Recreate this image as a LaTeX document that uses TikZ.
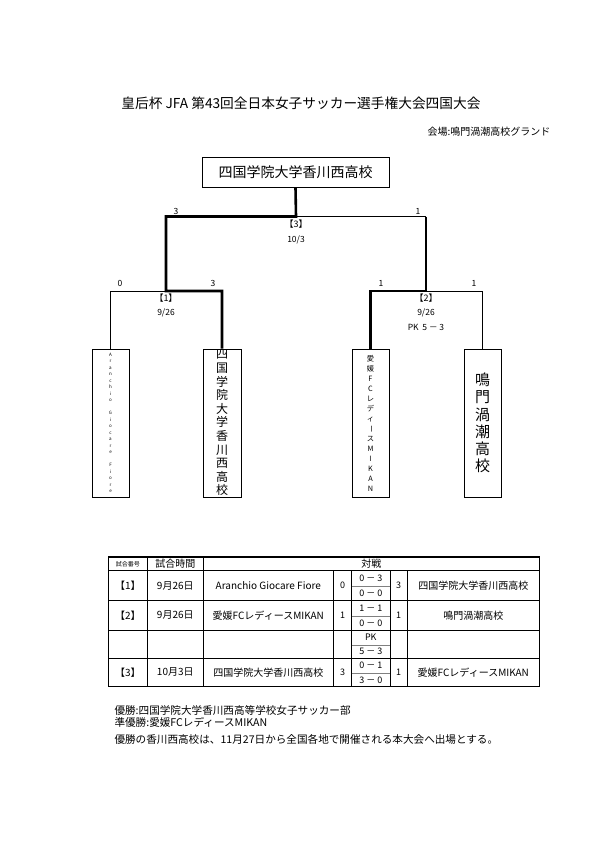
\documentclass[tikz,border=0pt]{standalone}
\usepackage{fontspec}
\setmainfont{Noto Sans CJK JP}
\begin{document}
\begin{tikzpicture}[x=1pt,y=-1pt,
    thinline/.style={line width=0.8pt},
    winline/.style={line width=2.6pt},
    teambox/.style={draw,line width=1pt,minimum width=37pt,minimum height=148pt,inner sep=0pt,align=center},
    score/.style={font=\fontsize{8.5}{9}\selectfont},
    cell/.style={font=\fontsize{10}{11}\selectfont},
    goal/.style={font=\fontsize{9}{10}\selectfont},
    note/.style={font=\fontsize{10.6}{11}\selectfont, anchor=west},
  ]

    % Fix the page size (A4 at 1pt per pixel)
    \useasboundingbox (0,0) rectangle (595,841);

    % Title and venue
    \node[font=\fontsize{13.7}{14}\selectfont] (title) at (301,103) {皇后杯 JFA 第43回全日本女子サッカー選手権大会四国大会};
    \node[font=\fontsize{10}{11}\selectfont, anchor=east] (venue) at (554,132) {会場:鳴門渦潮高校グランド};

    % Champion box at the top
    \node[draw, line width=1pt, minimum width=187pt, minimum height=30pt, font=\fontsize{14}{15}\selectfont] (champ) at (295.5,172) {四国学院大学香川西高校};

    % The four teams, written top to bottom
    \node[teambox, font=\fontsize{4.5}{6.5}\selectfont] (teamA) at (110.5,423)
      {A\\r\\a\\n\\c\\h\\i\\o\\~\\G\\i\\o\\c\\a\\r\\e\\~\\F\\i\\o\\r\\e};
    \node[teambox, minimum width=38pt, font=\fontsize{12}{13.6}\selectfont] (teamB) at (222,423)
      {四\\国\\学\\院\\大\\学\\香\\川\\西\\高\\校};
    \node[teambox, font=\fontsize{7.3}{10}\selectfont] (teamC) at (370.5,423)
      {愛\\媛\\F\\C\\レ\\デ\\ィ\\\rotatebox[origin=c]{-90}{ー}\\ス\\M\\I\\K\\A\\N};
    \node[teambox, font=\fontsize{15}{17.3}\selectfont] (teamD) at (482.5,423)
      {鳴\\門\\渦\\潮\\高\\校};

    % Joints of the bracket
    \coordinate (j3) at (296,216.5);
    \coordinate (t3l) at (166,216.5);
    \coordinate (t3r) at (426,216.5);
    \coordinate (j1) at (166,291);
    \coordinate (l1) at (110.5,291);
    \coordinate (r1) at (222,291);
    \coordinate (j2) at (426,291);
    \coordinate (l2) at (370.5,291);
    \coordinate (r2) at (482.5,291);

    % Losing sides (thin lines)
    \draw[thinline] (j3) -- (t3r);
    \draw[thinline] (j1) -- (l1) -- (teamA.north);
    \draw[thinline] (j2) -- (r2) -- (teamD.north);

    % Winning path of match [1] and the final (thick)
    \draw[winline] (champ.south) -- (j3) -- (t3l) -- (j1) -- (r1) -- (teamB.north);

    % Winning path of match [2] (thick)
    \draw[winline] (t3r) -- (j2) -- (l2) -- (teamC.north);

    % Scores of the final
    \node[score] (s3l) at (176,211) {3};
    \node[score] (s3r) at (418,211) {1};
    \node[goal] (m3) at (296,224) {【3】};
    \node[score] (d3) at (296,240) {10/3};

    % Scores of match [1]
    \node[score] (s1l) at (120,283) {0};
    \node[score] (s1r) at (213,283) {3};
    \node[goal] (m1) at (166,298) {【1】};
    \node[score] (d1) at (166,313) {9/26};

    % Scores of match [2]
    \node[score] (s2l) at (381,283) {1};
    \node[score] (s2r) at (474,283) {1};
    \node[goal] (m2) at (426,298) {【2】};
    \node[score] (d2) at (426,313) {9/26};
    \node[score] (pk2) at (426,327) {PK\ \ 5 － 3};

    % Result table: outer frame
    \draw[line width=1.2pt] (108.3,557) rectangle (539.3,686.7);

    % Row lines
    \draw[thinline] (108.3,570.7) -- (539.3,570.7);
    \draw[thinline] (108.3,600.7) -- (539.3,600.7);
    \draw[thinline] (108.3,630) -- (539.3,630);
    \draw[thinline] (108.3,658) -- (539.3,658);

    % Column lines
    \draw[thinline] (147.3,557) -- (147.3,686.7);
    \draw[thinline] (203.3,557) -- (203.3,686.7);
    \draw[thinline] (333.3,570.7) -- (333.3,686.7);
    \draw[thinline] (351.7,570.7) -- (351.7,686.7);
    \draw[thinline] (390,570.7) -- (390,686.7);
    \draw[thinline] (407.3,570.7) -- (407.3,686.7);

    % Half lines inside the score column
    \draw[gray, line width=0.6pt] (351.7,586) -- (390,586);
    \draw[gray, line width=0.6pt] (351.7,616) -- (390,616);
    \draw[gray, line width=0.6pt] (351.7,645) -- (390,645);
    \draw[gray, line width=0.6pt] (351.7,673) -- (390,673);

    % Header
    \node[font=\fontsize{6}{7}\selectfont] (h1) at (127.8,564) {試合番号};
    \node[cell] (h2) at (175.3,564) {試合時間};
    \node[cell] (h3) at (371.3,564) {対戦};

    % Row of match [1]
    \node[cell] (a1) at (127.8,585.7) {【1】};
    \node[cell] (a2) at (175.3,585.7) {9月26日};
    \node[cell] (a3) at (268.3,585.7) {Aranchio Giocare Fiore};
    \node[goal] (a4) at (342.5,585.7) {0};
    \node[goal] (a5) at (370.8,578.5) {0 － 3};
    \node[goal] (a6) at (370.8,593.5) {0 － 0};
    \node[goal] (a7) at (398.6,585.7) {3};
    \node[cell] (a8) at (473.3,585.7) {四国学院大学香川西高校};

    % Row of match [2]
    \node[cell] (b1) at (127.8,615.3) {【2】};
    \node[cell] (b2) at (175.3,615.3) {9月26日};
    \node[cell] (b3) at (268.3,615.3) {愛媛FCレディースMIKAN};
    \node[goal] (b4) at (342.5,615.3) {1};
    \node[goal] (b5) at (370.8,608.5) {1 － 1};
    \node[goal] (b6) at (370.8,623) {0 － 0};
    \node[goal] (b7) at (398.6,615.3) {1};
    \node[cell] (b8) at (473.3,615.3) {鳴門渦潮高校};

    % Penalty shoot-out of match [2]
    \node[goal] (p1) at (370.8,637.5) {PK};
    \node[goal] (p2) at (370.8,651.5) {5 － 3};

    % Row of match [3]
    \node[cell] (c1) at (127.8,672.3) {【3】};
    \node[cell] (c2) at (175.3,672.3) {10月3日};
    \node[cell] (c3) at (268.3,672.3) {四国学院大学香川西高校};
    \node[goal] (c4) at (342.5,672.3) {3};
    \node[goal] (c5) at (370.8,665.5) {0 － 1};
    \node[goal] (c6) at (370.8,680) {3 － 0};
    \node[goal] (c7) at (398.6,672.3) {1};
    \node[cell] (c8) at (473.3,672.3) {愛媛FCレディースMIKAN};

    % Notes below the table
    \node[note] (n1) at (111,710.7) {優勝:四国学院大学香川西高等学校女子サッカー部};
    \node[note] (n2) at (111,722) {準優勝:愛媛FCレディースMIKAN};
    \node[note] (n3) at (111,739.3) {優勝の香川西高校は、11月27日から全国各地で開催される本大会へ出場とする。};

\end{tikzpicture}
\end{document}
